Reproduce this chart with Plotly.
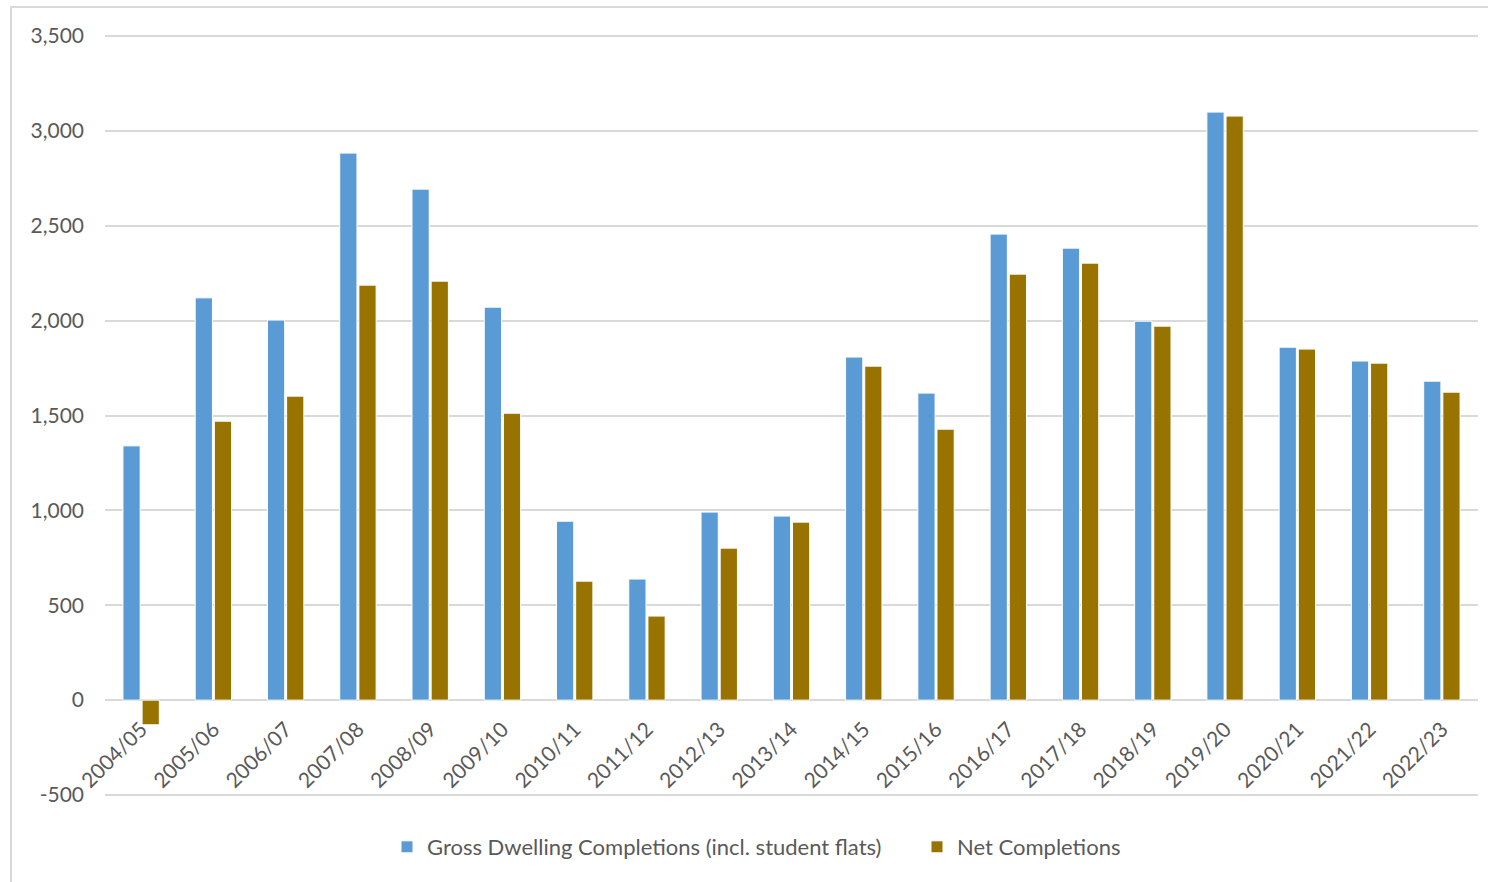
import plotly.graph_objects as go

years = ["2004/05", "2005/06", "2006/07", "2007/08", "2008/09", "2009/10", "2010/11",
         "2011/12", "2012/13", "2013/14", "2014/15", "2015/16", "2016/17", "2017/18",
         "2018/19", "2019/20", "2020/21", "2021/22", "2022/23"]
gross = [1340, 2120, 2003, 2883, 2693, 2071, 943, 638, 991, 970, 1808, 1618, 2456, 2382,
         1997, 3099, 1860, 1787, 1681]
net = [-130, 1470, 1602, 2187, 2208, 1512, 627, 443, 801, 938, 1760, 1428, 2245, 2303,
       1971, 3078, 1850, 1776, 1623]
gross_name = "Gross Dwelling Completions (incl. student flats)"
net_name = "Net Completions"
y_ticks = [-500, 0, 500, 1000, 1500, 2000, 2500, 3000, 3500]
y_tick_text = ["-500", "0", "500", "1,000", "1,500", "2,000", "2,500", "3,000", "3,500"]

FONT = "Lato"
GREY = "#595959"
GRID = "#D9D9D9"

fig = go.Figure()
fig.add_trace(go.Bar(x=years, y=gross, name=gross_name,
                     marker=dict(color="#5B9BD5", line=dict(color="white", width=1))))
fig.add_trace(go.Bar(x=years, y=net, name=net_name,
                     marker=dict(color="#997300", line=dict(color="white", width=1))))

W, H = 1488, 882
PAD = 4
L, R, T, B = 105, 10, 36 - PAD, 87 - PAD
pw = W - L - R
ph = H - T - B
units_per_px = 4000 / (795 - 36)
ymin = -500 - PAD * units_per_px
ymax = 3500 + PAD * units_per_px
zero_pos = (H - B - 700) / ph

fig.update_layout(
    width=W, height=H,
    margin=dict(l=L, r=R, t=T, b=B, autoexpand=False),
    paper_bgcolor="white", plot_bgcolor="white",
    barmode="group", bargap=0.47, bargroupgap=0.1,
    font=dict(family=FONT, color=GREY, size=21),
    showlegend=True,
    legend=dict(orientation="h", x=(917 - L) / pw, xanchor="center",
                y=-(847 - (H - B)) / ph, yanchor="middle",
                font=dict(family=FONT, size=22, color=GREY),
                entrywidth=485, entrywidthmode="pixels",
                traceorder="normal"),
    xaxis=dict(anchor="free", position=zero_pos, tickangle=-45,
               showgrid=False, showline=False, ticks="",
               tickfont=dict(family=FONT, size=21, color=GREY),
               ticklabelstandoff=12),
    yaxis=dict(range=[ymin, ymax], tickvals=y_ticks, ticktext=y_tick_text,
               showgrid=True, gridcolor=GRID, gridwidth=2,
               zeroline=True, zerolinecolor=GRID, zerolinewidth=2,
               showline=False, ticks="",
               tickfont=dict(family=FONT, size=21, color=GREY),
               ticklabelstandoff=20),
    shapes=[dict(type="rect", xref="paper", yref="paper",
                 x0=(11 - L) / pw, x1=1.05, y0=-0.2, y1=1 + (T - 7) / ph,
                 line=dict(color=GRID, width=2), fillcolor="rgba(0,0,0,0)", layer="below")],
)

fig.write_html("out.html")
